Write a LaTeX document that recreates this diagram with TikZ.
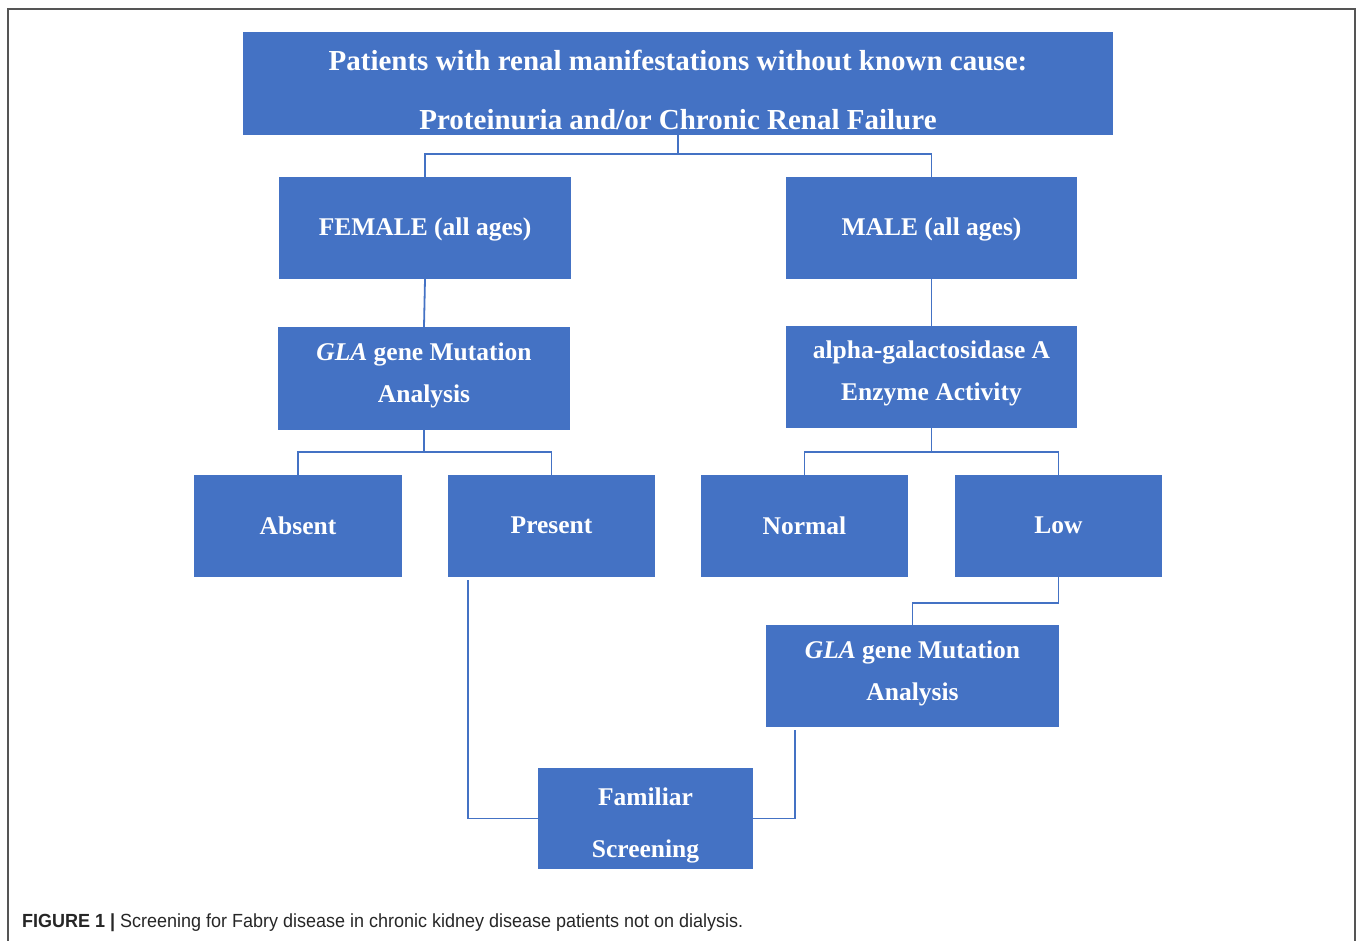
\documentclass[tikz,border=0pt]{standalone}
\usepackage{fontspec}
\setmainfont{Liberation Serif}
\newfontfamily\capfont{Liberation Sans}
\usetikzlibrary{calc}
\definecolor{boxblue}{HTML}{4472C4}
\definecolor{framegray}{HTML}{555555}
\tikzset{
  box/.style={fill=boxblue, draw=none, inner sep=0pt},
  boxtext/.style={inner sep=0pt, text=white, align=center,
    font=\fontsize{25.5}{42}\selectfont\bfseries},
  conn/.style={draw=boxblue, line width=1.8pt},
}
\begin{document}
\begin{tikzpicture}[x=1pt,y=-1pt]
\useasboundingbox (0,0) rectangle (1358,941);
\draw[framegray, line width=2pt] (8,941) -- (8,9) -- (1355,9) -- (1355,941);

\node[box, minimum width=870pt, minimum height=103pt,
  label={[boxtext, font=\fontsize{29}{59}\selectfont\bfseries, yshift=-6pt]center:Patients with renal manifestations without known cause:\\Proteinuria and/or Chronic Renal Failure}] (top) at (678,83.5) {};
\node[box, minimum width=292pt, minimum height=102pt,
  label={[boxtext, yshift=-1pt]center:FEMALE (all ages)}] (female) at (425,228) {};
\node[box, minimum width=291pt, minimum height=102pt,
  label={[boxtext, yshift=-1pt]center:MALE (all ages)}] (male) at (931.5,228) {};
\node[box, minimum width=292pt, minimum height=103pt,
  label={[boxtext, yshift=3.5pt]center:\textit{GLA} gene Mutation\\Analysis}] (glal) at (424,378.5) {};
\node[box, minimum width=291pt, minimum height=102pt,
  label={[boxtext, yshift=4pt]center:alpha-galactosidase A\\Enzyme Activity}] (alpha) at (931.5,377) {};
\node[box, minimum width=208pt, minimum height=102pt,
  label={[boxtext, yshift=0.5pt]center:Absent}] (absent) at (298,526) {};
\node[box, minimum width=207pt, minimum height=102pt,
  label={[boxtext, yshift=0.5pt]center:Present}] (present) at (551.5,526) {};
\node[box, minimum width=207pt, minimum height=102pt,
  label={[boxtext, yshift=0.5pt]center:Normal}] (normal) at (804.5,526) {};
\node[box, minimum width=207pt, minimum height=102pt,
  label={[boxtext, yshift=0.5pt]center:Low}] (low) at (1058.5,526) {};
\node[box, minimum width=293pt, minimum height=102pt,
  label={[boxtext, yshift=3pt]center:\textit{GLA} gene Mutation\\Analysis}] (glar) at (912.5,676) {};
\node[box, minimum width=215pt, minimum height=101pt,
  label={[boxtext, font=\fontsize{25.5}{52}\selectfont\bfseries, yshift=-6.5pt]center:Familiar\\Screening}] (fam) at (645.5,818.5) {};

\draw[conn] (top.south) -- ++(0,19) -| (female.north);
\draw[conn] (top.south) -- ++(0,19) -| (male.north);
\draw[conn] (female.south) -- (glal.north);
\draw[conn] (male.south) -- (alpha.north);
\draw[conn] (glal.south) -- ++(0,22) -| (absent.north);
\draw[conn] (glal.south) -- ++(0,22) -| (present.north);
\draw[conn] (alpha.south) -- ++(0,24) -| (normal.north);
\draw[conn] (alpha.south) -- ++(0,24) -| (low.north);
\draw[conn] (low.south) -- ++(0,26) -| (glar.north);
\coordinate (pstart) at ($(present.south west)+(20,3)$);
\draw[conn] (pstart) |- (fam.west);
\coordinate (gstart) at ($(glar.south west)+(29,3)$);
\draw[conn] (gstart) |- (fam.east);

\node[anchor=base west, inner sep=0pt, xscale=0.947, font=\capfont\fontsize{19}{22}\selectfont, text=black!85] (cap) at (22,927)
  {\textbf{FIGURE 1 |} Screening for Fabry disease in chronic kidney disease patients not on dialysis.};
\end{tikzpicture}
\end{document}
